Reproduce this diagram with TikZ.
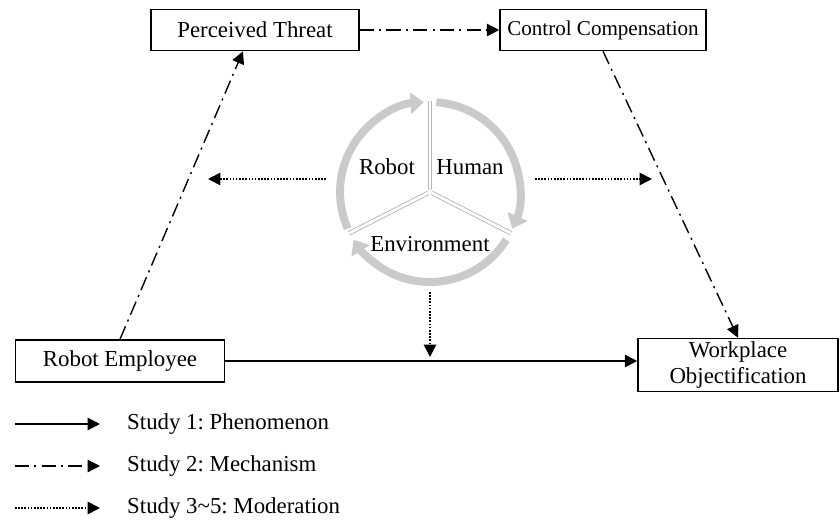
\documentclass[tikz,border=0pt]{standalone}
\usepackage{fontspec}
\setmainfont{Liberation Serif}
\usepackage{tikz}
\usetikzlibrary{arrows.meta,positioning,calc}
\definecolor{Ink}{HTML}{000000}
\definecolor{Ring}{HTML}{CACACA}
\frenchspacing
\tikzset{
  box/.style={draw=Ink,line width=0.9pt,minimum height=0.82cm,inner xsep=4pt,align=center,text=Ink,fill=white},
  solidArrow/.style={-{Triangle[length=7pt,width=7pt]},line width=1pt,draw=Ink},
  dashArrow/.style={-{Triangle[length=7pt,width=7pt]},line width=0.8pt,draw=Ink,dash pattern=on 8pt off 3pt on 1.2pt off 3pt},
  dotArrow/.style={-{Triangle[length=7pt,width=7pt]},line width=0.9pt,draw=Ink,dash pattern=on 0.9pt off 0.9pt},
  ringArc/.style={-{Triangle[length=7.5pt,width=12pt]},line width=4.5pt,draw=Ring},
  ringCut/.style={draw=Ring!90!black,line width=0.5pt,double=white,double distance=1.6pt}
}
\begin{document}
\begin{tikzpicture}[x=0.02cm,y=0.02cm,font=\fontsize{13}{15}\selectfont]
\useasboundingbox (0,0) rectangle (840,522);
% factors
\node[box,minimum width=4.16cm] (threat) at (255,492) {Perceived Threat};
\node[box,minimum width=4.12cm,font=\fontsize{12}{14}\selectfont] (comp) at (603,492) {Control Compensation};
\node[box,minimum width=4.18cm,minimum height=0.84cm] (robot) at (120,161) {Robot Employee};
\node[box,minimum width=4cm,minimum height=1.06cm,inner ysep=1pt] (work) at (738,157) {Workplace\\Objectification};
% main paths
\draw[solidArrow] (robot) -- (robot -| work.west);
\draw[dashArrow] (robot.north) -- ($(threat.south)+(-12,0)$);
\draw[dashArrow] (threat) -- (comp);
\draw[dashArrow] (comp.south) -- (work.north);
% moderators
\coordinate (cyc) at (430,330);
\foreach \a/\b in {204/94,86/-24,-32/-148}{
  \draw[ringArc] ($(cyc)+(\a:90)$) arc[start angle=\a,end angle=\b,radius=90];
}
\foreach \a in {90,-27,207}{
  \draw[ringCut] ($(cyc)+(\a:2)$) -- ($(cyc)+(\a:91)$);
}
\node (rob) at (387,355) {Robot};
\node (hum) at (470,355) {Human};
\node (env) at (430,278) {Environment};
\coordinate (modL) at (326,343);
\coordinate (modR) at (535,343);
\coordinate (modD) at (430,230);
\draw[dotArrow] (modL) -- (208,343);
\draw[dotArrow] (modR) -- (652,343);
\draw[dotArrow] (modD) -- ($(modD |- robot)+(0,4)$);
% legend
\foreach \y/\sty/\txt in {98/solidArrow/Study 1: Phenomenon,56/dashArrow/Study 2: Mechanism,14/dotArrow/Study 3\textasciitilde5: Moderation}{
  \draw[\sty] (15,\y) -- (100,\y);
  \node[anchor=west] at (121,\y) {\txt};
}
\end{tikzpicture}
\end{document}
